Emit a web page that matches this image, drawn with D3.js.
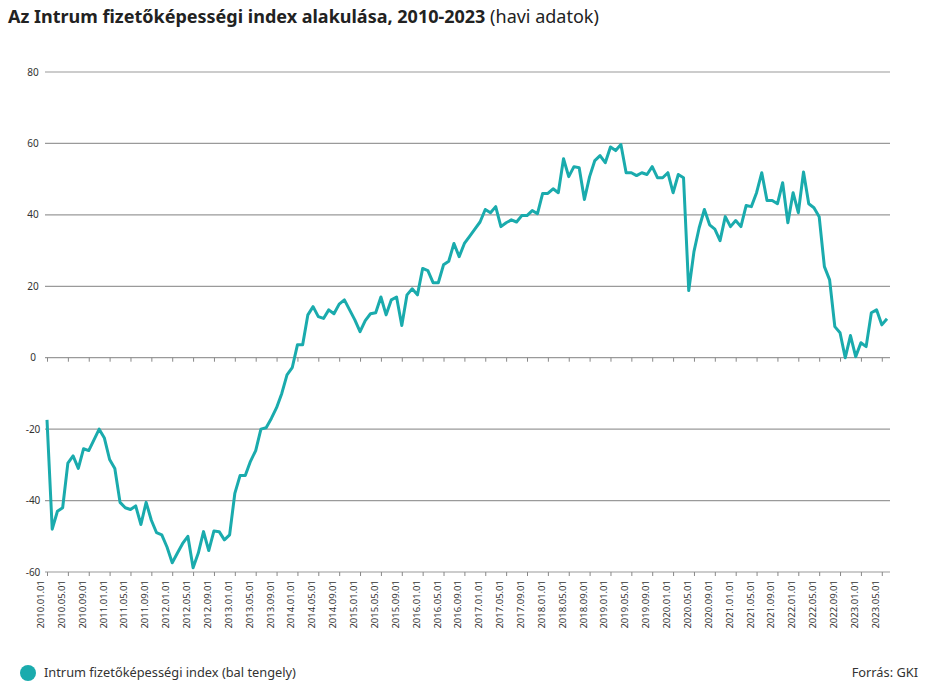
<!DOCTYPE html>
<html><head><meta charset="utf-8">
<script src="https://cdn.jsdelivr.net/npm/d3@7"></script>
<style>body{margin:0;background:#fff}text{font-family:"Noto Sans",sans-serif}</style>
</head><body>
<svg id="chart" width="945" height="696"></svg>
<script>
// monthly values, 2010.01 - 2023.06
const values=[-17.4,-48,-43,-42,-29.5,-27.5,-31,-25.5,-26,-23,-20,-22.5,-28.5,-31,-40.5,-42,-42.5,-41.5,-46.7,-40.5,
-45.5,-49,-49.6,-53,-57.4,-54.7,-52,-50,-58.8,-54.7,-48.7,-54,-48.5,-48.7,-51,-49.6,-38,-33,-33,-29,
-26,-20,-19.6,-17,-14,-10,-4.8,-2.8,3.6,3.6,12,14.3,11.5,11,13.4,12.3,15,16.2,13.4,10.6,
7.3,10.4,12.3,12.6,17,12,16.2,17,9,17.6,19.3,17.6,25,24.4,21,21,26,27,32,28.3,
32,34,36,38,41.5,40.6,42.3,36.7,37.8,38.6,38,39.8,39.8,41.2,40.3,46,46,47.3,46.2,55.7,
50.7,53.5,53.2,44.3,50.7,55.2,56.6,54.6,59,58,59.7,51.8,51.8,51,51.8,51.3,53.5,50.4,50.4,51.8,
46.2,51.3,50.4,18.8,29.7,36.4,41.5,37.2,36,32.8,39.5,36.7,38.4,36.7,42.6,42.3,46.2,51.8,44,44,
43.1,49,37.8,46.2,40.6,52,43.1,42,39.5,25.5,21.8,8.7,7,0,6.2,0.3,4.2,3.1,12.6,13.4,9.2,10.9];
const months=values.map((v,i)=>{const y=2010+Math.floor(i/12),m=i%12+1;return `${y}.${String(m).padStart(2,"0")}.01`;});
const tickLabels=months.filter((d,i)=>i%4===0);
const yTicks=[-60,-40,-20,0,20,40,60,80];
const color="#1aabad";

const svg=d3.select("#chart");
const x=d3.scalePoint().domain(months).range([47,887]);
const y=d3.scaleLinear().domain([-60,80]).range([572,72]);

svg.append("g").selectAll("line").data(yTicks).enter().append("line")
 .attr("x1",45).attr("x2",890).attr("y1",d=>y(d)).attr("y2",d=>y(d))
 .attr("stroke","#9a9a9a").attr("stroke-width",1.2);
svg.append("g").selectAll("text").data(yTicks).enter().append("text")
 .attr("x",33).attr("y",d=>y(d)+3.5).attr("text-anchor","middle")
 .attr("font-size",10).attr("fill","#333").text(d=>d);

// ticks on the zero line
svg.append("g").attr("transform",`translate(0,${y(0)})`)
 .call(d3.axisBottom(x).tickValues(tickLabels).tickSize(4).tickFormat(""))
 .call(g=>{g.select(".domain").remove();g.selectAll("line").attr("stroke","#888");});

// labels below the chart
svg.append("g").attr("transform",`translate(0,${y(-60)})`)
 .call(d3.axisBottom(x).tickValues(tickLabels).tickSize(4))
 .call(g=>{g.select(".domain").remove();g.selectAll("line").attr("stroke","#888");
  g.selectAll("text").attr("transform","rotate(-90)").attr("x",-8).attr("y",-3.5)
   .attr("dy",0).attr("text-anchor","end").attr("font-size",9.5).attr("fill","#333")
   .style("font-family","'Noto Sans',sans-serif");});

svg.append("path").datum(values)
 .attr("d",d3.line().x((d,i)=>x(months[i])).y(d=>y(d)))
 .attr("fill","none").attr("stroke",color).attr("stroke-width",3).attr("stroke-linejoin","round");

const t=svg.append("text").attr("x",8).attr("y",23).attr("font-size",18).attr("fill","#222");
t.append("tspan").attr("font-weight","bold").text("Az Intrum fizetőképességi index alakulása, 2010-2023");
t.append("tspan").text(" (havi adatok)");

svg.append("circle").attr("cx",28).attr("cy",673).attr("r",8).attr("fill",color);
svg.append("text").attr("x",44).attr("y",677).attr("font-size",12.8).attr("fill","#333")
 .text("Intrum fizetőképességi index (bal tengely)");
svg.append("text").attr("x",918).attr("y",677).attr("font-size",12.8).attr("fill","#333")
 .attr("text-anchor","end").text("Forrás: GKI");
</script>
</body></html>
